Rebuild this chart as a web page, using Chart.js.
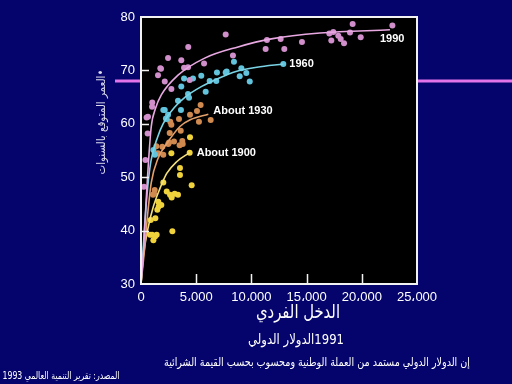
<!DOCTYPE html>
<html>
<head>
<meta charset="utf-8">
<script src="https://cdn.jsdelivr.net/npm/chart.js@4/dist/chart.umd.min.js"></script>
<style>
html,body{margin:0;padding:0;background:#04046c;}
canvas{display:block;}
</style>
</head>
<body>
<canvas id="c" width="512" height="384"></canvas>
<script>
// ---------- DATA (income in 1991 intl $, life expectancy in years) ----------
const yearLabels = ['1990', '1960', 'About 1930', 'About 1900'];
const xTickValues = [0, 5000, 10000, 15000, 20000, 25000];
const xTickLabels = ['0', '5،000', '10،000', '15،000', '20،000', '25،000'];
const yTickValues = [30, 40, 50, 60, 70, 80];

const points1990 = [[270,48.2],[400,53.2],[600,58.2],[510,61.2],[630,61.3],[1000,63.2],[1020,64.0],[1540,69.1],[1750,70.4],[1810,70.3],[2150,67.9],[2450,72.3],[2750,66.5],[3650,71.9],[3900,70.5],[4260,70.6],[4280,74.4],[4410,68.2],[5710,71.3],[7670,76.7],[8330,72.8],[11290,74.0],[11410,75.7],[12650,75.9],[12980,74.0],[14580,75.3],[17060,76.9],[17240,75.6],[17420,77.2],[17870,76.5],[18090,75.9],[18390,75.1],[18930,77.1],[19170,78.7],[19900,76.2],[22770,78.4]];
const points1960 = [[1120,55.1],[1270,54.2],[2020,62.6],[2150,62.6],[2260,61.0],[2330,60.9],[2450,61.7],[3350,64.3],[3620,62.6],[3650,67.0],[3900,68.5],[4260,65.6],[4350,64.9],[4710,68.5],[5460,69.0],[5860,66.0],[6220,68.0],[6820,68.0],[6880,69.6],[7670,69.6],[7760,69.8],[8420,71.6],[8940,68.9],[9090,70.4],[9540,69.5],[9850,67.9],[12890,71.2]];
const points1930 = [[1090,46.7],[1180,46.9],[1240,47.6],[1390,55.8],[1540,54.5],[1930,55.7],[2020,54.2],[2470,56.2],[2540,56.5],[2600,58.3],[2650,60.4],[2750,59.8],[2990,56.7],[3440,60.9],[3500,56.0],[3600,58.7],[3740,56.8],[3780,56.2],[4440,61.7],[5070,62.4],[5250,60.4],[5400,63.5],[6310,60.7]];
const points1900 = [[820,39.2],[880,42.0],[1000,39.2],[1120,38.2],[1270,38.9],[1300,42.3],[1420,39.2],[1480,43.9],[1570,45.4],[1600,44.5],[1840,44.8],[2020,49.0],[2330,47.3],[2630,46.7],[2780,46.2],[2840,39.9],[3050,46.9],[3350,46.7],[3530,51.7],[3530,50.4],[2750,54.5],[4440,57.5],[4590,48.5],[4410,54.6]];

const curve1990 = [[0,30],[250,37],[450,45],[650,52],[930,59.5],[1300,62.8],[1840,65.4],[3350,69.1],[5770,72.3],[8790,74.4],[11800,75.9],[16210,77.0],[22550,77.6]];
const curve1960 = [[0,30],[300,40],[600,48],[900,53],[1500,57.5],[2000,60],[3000,63],[4000,65],[5500,67],[7000,68.5],[8600,69.8],[10500,70.6],[12890,71.2]];
const curve1930 = [[0,30],[300,36],[600,43],[930,49],[1540,53.5],[2400,56.5],[3530,59.5],[4500,60.8],[6100,61.8]];
const curve1900 = [[0,30],[210,35.1],[660,40.7],[1120,44.5],[1720,47.9],[2330,50.7],[3230,52.9],[4410,54.6]];

// ---------- STYLE ----------
const navy = '#04046c';
const pointColors = ['#d08fcb', '#62c3dd', '#d08a50', '#f0d23c'];
const lineColors  = ['#e8a8e2', '#7ad4e6', '#e4a06a', '#f5e07a'];
const labelOffsets = [[-10, 9], [6, 0], [5, -3], [7, 0]];
const arFont = '"DejaVu Sans", sans-serif';

const toXY = arr => arr.map(p => ({x: p[0], y: p[1]}));
const pointSets = [points1990, points1960, points1930, points1900];
const curveSets = [curve1990, curve1960, curve1930, curve1900];

const datasets = [];
pointSets.forEach((s, i) => datasets.push({
  type: 'scatter', data: toXY(s), showLine: false,
  pointRadius: 3, pointBorderWidth: 0,
  pointBackgroundColor: pointColors[i], borderColor: pointColors[i], order: 2
}));
curveSets.forEach((s, i) => datasets.push({
  type: 'line', data: toXY(s), showLine: true, pointRadius: 0,
  borderColor: lineColors[i], borderWidth: 1.6, fill: false,
  cubicInterpolationMode: 'monotone', order: 1
}));

// draws text at a given size, squeezed horizontally to span the wanted width
function fitText(ctx, text, cx, cy, width, size) {
  ctx.save();
  ctx.font = size + 'px ' + arFont;
  const w = ctx.measureText(text).width;
  ctx.translate(cx, cy);
  if (w > width) ctx.scale(width / w, 1);
  ctx.fillText(text, 0, 0);
  ctx.restore();
}

const deco = {
  id: 'deco',
  beforeDraw(chart) {
    const {ctx, chartArea: a} = chart;
    ctx.save();
    ctx.fillStyle = navy;
    ctx.fillRect(0, 0, chart.width, chart.height);
    ctx.strokeStyle = '#e474ea';
    ctx.lineWidth = 3;
    ctx.beginPath(); ctx.moveTo(115, 81); ctx.lineTo(chart.width, 81); ctx.stroke();
    ctx.fillStyle = '#000000';
    ctx.fillRect(a.left, a.top, a.right - a.left, a.bottom - a.top);
    ctx.restore();
  },
  afterDatasetsDraw(chart) {
    const {ctx, chartArea: a, scales: {x, y}} = chart;
    ctx.save();
    ctx.strokeStyle = '#f2f2f2';
    ctx.lineWidth = 2;
    ctx.strokeRect(a.left, a.top, a.right - a.left, a.bottom - a.top);
    ctx.lineWidth = 1.5;
    ctx.beginPath();
    xTickValues.slice(1, -1).forEach(v => {
      const px = Math.round(x.getPixelForValue(v)) + 0.5;
      ctx.moveTo(px, a.bottom); ctx.lineTo(px, a.bottom - 10);
    });
    yTickValues.slice(1, -1).forEach(v => {
      const py = Math.round(y.getPixelForValue(v)) + 0.5;
      ctx.moveTo(a.left, py); ctx.lineTo(a.left + 8, py);
    });
    ctx.stroke();
    ctx.fillStyle = '#ffffff';
    ctx.font = 'bold 11px "Liberation Sans", Arial, sans-serif';
    ctx.textBaseline = 'middle';
    ctx.textAlign = 'left';
    curveSets.forEach((s, i) => {
      const last = s[s.length - 1];
      const px = x.getPixelForValue(last[0]) + labelOffsets[i][0];
      const py = y.getPixelForValue(last[1]) + labelOffsets[i][1];
      ctx.fillText(yearLabels[i], px, py);
    });
    ctx.restore();
  },
  afterDraw(chart) {
    const ctx = chart.ctx;
    ctx.save();
    ctx.direction = 'rtl';
    ctx.textAlign = 'center';
    ctx.textBaseline = 'middle';
    ctx.fillStyle = '#ffffff';
    fitText(ctx, 'الدخل الفردي', 298, 313, 84, 19);
    fitText(ctx, '1991الدولار الدولي', 296, 340, 96, 14);
    fitText(ctx, 'إن الدولار الدولي مستمد من العملة الوطنية ومحسوب بحسب القيمة الشرائية', 317, 363, 306, 11.5);
    fitText(ctx, 'المصدر: تقرير التنمية العالمي 1993', 61, 376, 117, 10);
    ctx.translate(102, 122);
    ctx.rotate(-Math.PI / 2);
    ctx.fillStyle = '#dcdcec';
    fitText(ctx, '•العمر المتوقع بالسنوات', 0, 0, 105, 11.5);
    ctx.restore();
  }
};

new Chart(document.getElementById('c'), {
  type: 'scatter',
  data: {datasets},
  options: {
    responsive: false,
    animation: false,
    layout: {padding: {top: 17, right: 95, left: 0, bottom: 0}},
    plugins: {legend: {display: false}, tooltip: {enabled: false}},
    scales: {
      x: {
        type: 'linear', min: 0, max: 25000,
        afterBuildTicks: s => { s.ticks = xTickValues.map(v => ({value: v})); },
        afterFit: s => { s.height = 100; },
        grid: {display: false, drawTicks: false},
        border: {display: false},
        ticks: {
          color: '#ffffff', padding: 6, autoSkip: false, maxRotation: 0,
          font: {family: '"Liberation Sans", Arial, sans-serif', size: 13},
          callback: (v, i) => xTickLabels[i]
        }
      },
      y: {
        type: 'linear', min: 30, max: 80,
        afterBuildTicks: s => { s.ticks = yTickValues.map(v => ({value: v})); },
        afterFit: s => { s.width = 141; },
        grid: {display: false, drawTicks: false},
        border: {display: false},
        ticks: {
          color: '#ffffff', padding: 6,
          font: {family: '"Liberation Sans", Arial, sans-serif', size: 13},
          callback: v => String(v)
        }
      }
    }
  },
  plugins: [deco]
});
</script>
</body>
</html>
